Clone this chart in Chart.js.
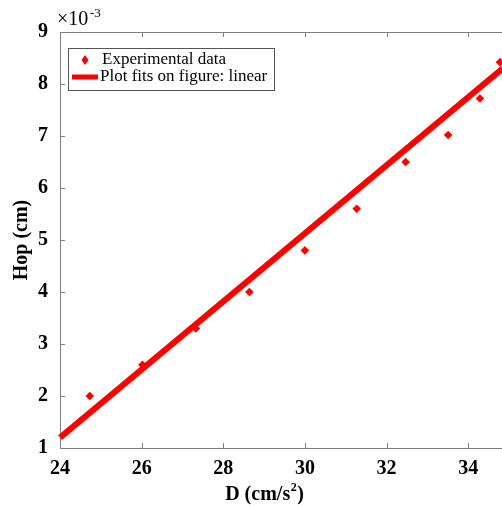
<!DOCTYPE html>
<html>
<head>
<meta charset="utf-8">
<script src="https://cdn.jsdelivr.net/npm/chart.js@4"></script>
<style>
  html, body { margin: 0; padding: 0; background: #fff; overflow: hidden; }
  canvas { display: block; }
</style>
</head>
<body>
<canvas id="graficoHop" width="502" height="506"></canvas>
<script>
const valoresD = [24.73, 26.02, 27.33, 28.64, 30.0, 31.27, 32.47, 33.51, 34.29, 34.78]
const valoresHop = [2.0, 2.6, 3.3, 4.0, 4.8, 5.6, 6.5, 7.02, 7.72, 8.42]
const ajusteD = [24, 34.85]
const ajusteHop = [1.2, 8.3]
const ticksX = [24, 26, 28, 30, 32, 34]
const ticksY = [1, 2, 3, 4, 5, 6, 7, 8, 9]

const fonte = '"Liberation Serif", "DejaVu Serif", serif'
const cinza = '#7f7f7f'

// ticks para dentro, borda de cima, legenda, titulo do x e o x10^-3
const molduraMatlab = {
    id: 'molduraMatlab',
    afterDraw(chart) {
        const ctx = chart.ctx
        const area = chart.chartArea
        const x = chart.scales.x
        const y = chart.scales.y
        ctx.save()
        ctx.strokeStyle = cinza
        ctx.lineWidth = 1
        ctx.beginPath()
        ctx.moveTo(area.left, area.top + 0.5)
        ctx.lineTo(chart.width, area.top + 0.5)
        ticksX.forEach(v => {
            let px = Math.round(x.getPixelForValue(v)) + 0.5
            ctx.moveTo(px, area.bottom)
            ctx.lineTo(px, area.bottom - 5)
            ctx.moveTo(px, area.top)
            ctx.lineTo(px, area.top + 5)
        })
        ticksY.forEach(v => {
            let py = Math.round(y.getPixelForValue(v)) + 0.5
            ctx.moveTo(area.left, py)
            ctx.lineTo(area.left + 5, py)
        })
        ctx.stroke()

        // x10^-3
        ctx.fillStyle = '#000'
        ctx.textBaseline = 'alphabetic'
        ctx.textAlign = 'left'
        ctx.font = '20px ' + fonte
        ctx.fillText('\u00d710', 57, 25)
        ctx.font = '13px ' + fonte
        ctx.fillText('-3', 90, 17)

        // titulo do eixo x com o 2 sobrescrito
        ctx.font = 'bold 20px ' + fonte
        let parte1 = 'D (cm/s'
        let w1 = ctx.measureText(parte1).width
        ctx.font = 'bold 12px ' + fonte
        let w2 = ctx.measureText('2').width
        ctx.font = 'bold 20px ' + fonte
        let w3 = ctx.measureText(')').width
        let tx = 264 - (w1 + w2 + w3) / 2
        ctx.fillText(parte1, tx, 500)
        ctx.font = 'bold 12px ' + fonte
        ctx.fillText('2', tx + w1 + 0.5, 491)
        ctx.font = 'bold 20px ' + fonte
        ctx.fillText(')', tx + w1 + w2 + 1, 500)

        // legenda
        const lx = 68, ly = 48, lw = 206, lh = 42
        ctx.fillStyle = '#fff'
        ctx.fillRect(lx, ly, lw, lh)
        ctx.lineWidth = 1
        ctx.strokeStyle = '#555'
        ctx.strokeRect(lx + 0.5, ly + 0.5, lw, lh)
        const ds = chart.data.datasets
        ctx.fillStyle = ds[0].pointBackgroundColor
        ctx.beginPath()
        ctx.moveTo(85, 55)
        ctx.lineTo(88.5, 60)
        ctx.lineTo(85, 65)
        ctx.lineTo(81.5, 60)
        ctx.closePath()
        ctx.fill()
        ctx.strokeStyle = ds[1].borderColor
        ctx.lineWidth = 5
        ctx.beginPath()
        ctx.moveTo(72, 77)
        ctx.lineTo(98, 77)
        ctx.stroke()
        ctx.fillStyle = '#000'
        ctx.font = '17px ' + fonte
        ctx.textBaseline = 'middle'
        ctx.fillText(ds[0].label, 102, 60)
        ctx.fillText(ds[1].label, 100, 77)
        ctx.restore()
    }
}

const elementoGrafico = document.querySelector('#graficoHop')

const graficoHop = new Chart(elementoGrafico, {
    type: 'scatter',
    data: {
        datasets: [{
            label: 'Experimental data',
            data: valoresD.map((d, i) => ({ x: d, y: valoresHop[i] })),
            pointStyle: 'rectRot',
            pointRadius: 4.3,
            pointBackgroundColor: '#ff0000',
            pointBorderColor: '#ff0000',
            pointBorderWidth: 0,
            showLine: false,
            clip: false,
            order: 0
        }, {
            label: 'Plot fits on figure: linear',
            data: ajusteD.map((d, i) => ({ x: d, y: ajusteHop[i] })),
            showLine: true,
            borderColor: '#ff0000',
            borderWidth: 6,
            pointRadius: 0,
            clip: false,
            order: 1
        }]
    },
    options: {
        responsive: false,
        animation: false,
        devicePixelRatio: 1,
        layout: { autoPadding: false, padding: { top: 32, right: 0, left: 0, bottom: 0 } },
        plugins: {
            legend: { display: false },
            tooltip: { enabled: false }
        },
        scales: {
            x: {
                type: 'linear',
                min: 24,
                max: 34.83,
                afterBuildTicks: scale => { scale.ticks = ticksX.map(v => ({ value: v })) },
                afterFit: scale => {
                    scale.height = 58
                    scale.paddingRight = 0
                    scale.paddingLeft = 0
                },
                grid: { display: false, drawTicks: false },
                border: { display: true, color: cinza, width: 1 },
                ticks: {
                    padding: 9,
                    color: '#000',
                    font: { family: fonte, size: 20, weight: 'bold' }
                },
                title: { display: false }
            },
            y: {
                type: 'linear',
                min: 1,
                max: 9,
                afterBuildTicks: scale => { scale.ticks = ticksY.map(v => ({ value: v })) },
                afterFit: scale => { scale.width = 60 },
                grid: { display: false, drawTicks: false },
                border: { display: true, color: cinza, width: 1 },
                ticks: {
                    padding: 12,
                    color: '#000',
                    font: { family: fonte, size: 20, weight: 'bold' }
                },
                title: {
                    display: true,
                    text: 'Hop (cm)',
                    color: '#000',
                    font: { family: fonte, size: 20, weight: 'bold' },
                    padding: { top: 10, bottom: 0 }
                }
            }
        }
    },
    plugins: [molduraMatlab]
})
</script>
</body>
</html>
